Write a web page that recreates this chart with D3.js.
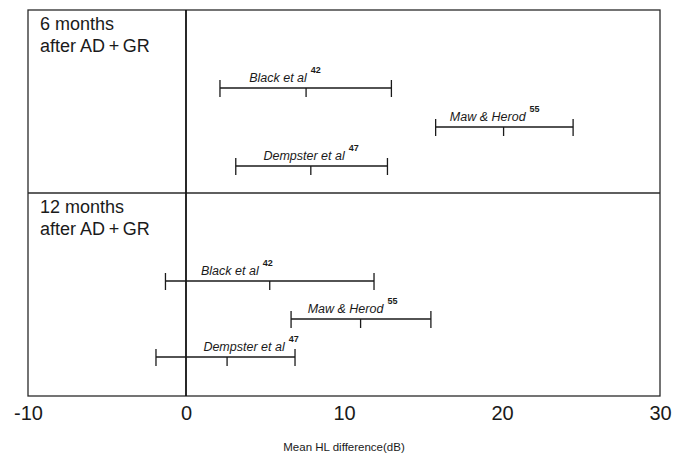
<!DOCTYPE html>
<html>
<head>
<meta charset="utf-8">
<script src="https://cdn.jsdelivr.net/npm/d3@7"></script>
<style>
  html, body { margin: 0; padding: 0; background: #fff; }
  svg { display: block; }
  text { font-family: "Liberation Sans", Arial, Helvetica, sans-serif; fill: #1a1a1a; }
</style>
</head>
<body>
<svg id="chart" width="689" height="455"></svg>
<script>
// Mean hearing-level difference (dB) with confidence limits, by study and follow-up time
const panels = ["6 months", "12 months"];
const panelSubtitle = "after AD\u2009+\u2009GR";
const studies = ["Black et al", "Maw & Herod", "Dempster et al"];
const refs = ["42", "55", "47"];

// [lower, mean, upper] for each study, per panel
const sixMonths = [
  [2.15, 7.6, 13.0],
  [15.8, 20.1, 24.5],
  [3.15, 7.9, 12.75]
];
const twelveMonths = [
  [-1.3, 5.3, 11.9],
  [6.65, 11.05, 15.5],
  [-1.9, 2.6, 6.9]
];
const panelValues = [sixMonths, twelveMonths];

const xTicks = [-10, 0, 10, 20, 30];
const xTitle = "Mean HL difference(dB)";

// layout
const plot = { left: 28, right: 660, top: 10, split: 193, bottom: 396 };
const rowRanges = [[88, 166], [281, 357]];       // first/last row centre in each panel
const labelStart = [[4.0, 16.7, 4.9], [0.95, 7.7, 1.1]]; // where each study label begins (dB)

const svg = d3.select("#chart");
const x = d3.scaleLinear().domain([-10, 30]).range([plot.left, plot.right]);

// frame and panel divider
const frame = svg.append("g").attr("fill", "none").attr("stroke", "#2a2a2a").attr("stroke-width", 1.3);
frame.append("rect")
  .attr("x", plot.left).attr("y", plot.top)
  .attr("width", plot.right - plot.left).attr("height", plot.bottom - plot.top);
frame.append("line")
  .attr("x1", plot.left).attr("x2", plot.right)
  .attr("y1", plot.split).attr("y2", plot.split);

// zero-difference reference line
svg.append("line")
  .attr("x1", x(0)).attr("x2", x(0))
  .attr("y1", plot.top).attr("y2", plot.bottom)
  .attr("stroke", "#111").attr("stroke-width", 1.8);

// x axis labels (no tick marks)
const xAxis = d3.axisBottom(x).tickValues(xTicks).tickSize(0).tickPadding(10).tickFormat(d => String(d));
const axisG = svg.append("g").attr("transform", `translate(0,${plot.bottom})`).call(xAxis);
axisG.select(".domain").remove();
axisG.selectAll("text")
  .attr("font-size", 20)
  .attr("font-family", "'Liberation Sans', Arial, sans-serif")
  .attr("fill", "#1a1a1a");

svg.append("text")
  .attr("x", x(10)).attr("y", 451)
  .attr("text-anchor", "middle")
  .attr("font-size", 11.5)
  .text(xTitle);

const panelTops = [plot.top, plot.split];

panels.forEach((p, pi) => {
  const top = panelTops[pi];
  svg.append("text").attr("x", 40).attr("y", top + 20).attr("font-size", 18).text(p);
  svg.append("text").attr("x", 40).attr("y", top + 42).attr("font-size", 18).text(panelSubtitle);

  const y = d3.scalePoint().domain(studies).range(rowRanges[pi]);
  const g = svg.append("g").attr("stroke", "#1a1a1a").attr("stroke-width", 1.3);

  studies.forEach((s, si) => {
    const [lo, mean, hi] = panelValues[pi][si];
    const yy = y(s);
    g.append("line").attr("x1", x(lo)).attr("x2", x(hi)).attr("y1", yy).attr("y2", yy);
    g.append("line").attr("x1", x(lo)).attr("x2", x(lo)).attr("y1", yy - 8).attr("y2", yy + 9);
    g.append("line").attr("x1", x(hi)).attr("x2", x(hi)).attr("y1", yy - 8).attr("y2", yy + 9);
    g.append("line").attr("x1", x(mean)).attr("x2", x(mean)).attr("y1", yy).attr("y2", yy + 9);

    const t = svg.append("text")
      .attr("x", x(labelStart[pi][si])).attr("y", yy - 6)
      .attr("font-size", 12.5).attr("font-style", "italic");
    t.append("tspan").text(s);
    t.append("tspan").attr("dx", 4).attr("dy", -9)
      .attr("font-size", 9).attr("font-weight", "bold").attr("font-style", "normal")
      .text(refs[si]);
  });
});
</script>
</body>
</html>
